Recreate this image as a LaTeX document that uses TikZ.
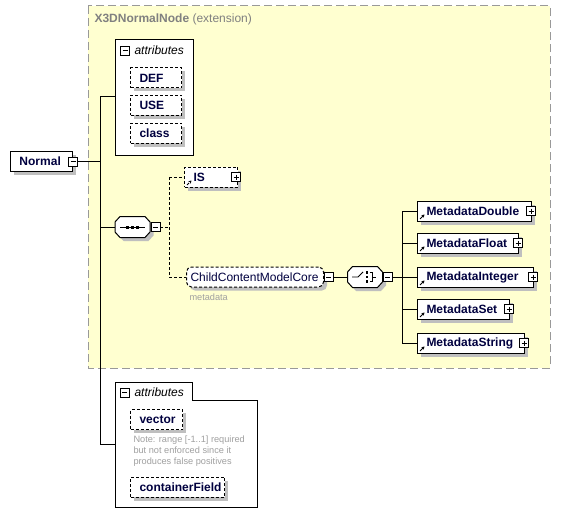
\documentclass[tikz,border=0pt]{standalone}
\usepackage{fontspec}
\setmainfont{Liberation Sans}
\usetikzlibrary{shadows,arrows.meta}
\definecolor{extfill}{HTML}{FFFFD0}
\definecolor{extline}{HTML}{999999}
\definecolor{elemtext}{HTML}{00003F}
\definecolor{titlegray}{HTML}{808080}
\definecolor{notegray}{HTML}{A0A0A0}
\definecolor{shadowgray}{HTML}{BFBFBF}

\begin{document}
\begin{tikzpicture}[x=1pt,y=-1pt,line width=1pt,
  font=\fontsize{12}{14}\selectfont,
  boxshadow/.style={general shadow={fill=shadowgray,shadow xshift=3.5pt,shadow yshift=-3.5pt}},
  elem/.style={draw,fill=white,boxshadow,anchor=west,minimum height=20pt,inner xsep=9pt,inner ysep=0pt,text width=#1,align=left,text=elemtext,font=\fontsize{12}{14}\selectfont\bfseries},
  opt/.style={dash pattern=on 3pt off 2pt},
  ref/.style={path picture={\draw[-{Stealth[length=3pt,width=3.5pt]},line width=0.9pt] ([shift={(2.5pt,2pt)}]path picture bounding box.south west) -- ++(4.5pt,4.5pt);}},
  pm/.style={draw,fill=white,solid,minimum size=9pt,inner sep=0pt,line width=0.8pt},
  minus/.style={pm,path picture={\draw[line width=0.8pt] ([xshift=2pt]path picture bounding box.west) -- ([xshift=-2pt]path picture bounding box.east);}},
  plus/.style={pm,path picture={\draw[line width=0.8pt] ([xshift=2pt]path picture bounding box.west) -- ([xshift=-2pt]path picture bounding box.east) ([yshift=-2pt]path picture bounding box.north) -- ([yshift=2pt]path picture bounding box.south);}},
  compositor/.style={minimum width=35pt,minimum height=21pt,inner sep=0pt},
  optline/.style={dash pattern=on 3pt off 2pt}]
\useasboundingbox (0,0) rectangle (563,527);

\draw[extline,fill=extfill,dash pattern=on 8pt off 4pt] (88,6) rectangle (550,368);
\node[anchor=west,text=titlegray,inner sep=0pt] (title) at (94,19) {\textbf{X3DNormalNode} (extension)};

\node[draw,fill=white,anchor=north west,minimum width=78pt,minimum height=116pt] (attrA) at (115,39) {};
\node[minus] (attrAm) at (125,50.5) {};
\node[anchor=west,inner sep=0pt,font=\fontsize{12}{14}\selectfont\itshape] (attrAt) at (134,50.5) {attributes};
\node[elem=33pt,opt] (def) at (130,78) {DEF};
\node[elem=33pt,opt] (use) at (130,105.5) {USE};
\node[elem=33pt,opt] (class) at (130,133.5) {class};

\node[elem=44pt] (normal) at (10,161.5) {Normal};
\node[minus] (normalm) at (normal.east) {};

\coordinate (t1) at (100,97);
\coordinate (t4) at (100,444);
\draw (normalm.east) -- (normalm.east -| t1);
\draw (t1) -- (t4);
\draw (t1) -- (attrA.west |- t1);

\node[compositor] (seq) at (132.5,227) {};
\node[compositor] (choice) at (365,277) {};
\foreach \c in {seq,choice}{
  \begin{scope}[shift={(\c.center)}]
  \fill[shadowgray] (-14,-1.5) -- (-9,-7) -- (16,-7) -- (21,-1.5) -- (21,8.5) -- (16,14) -- (-9,14) -- (-14,8.5) -- cycle;
  \draw[fill=white] (-17.5,-5) -- (-12.5,-10.5) -- (12.5,-10.5) -- (17.5,-5) -- (17.5,5) -- (12.5,10.5) -- (-12.5,10.5) -- (-17.5,5) -- cycle;
  \end{scope}
}
\begin{scope}[shift={(seq.center)}]
\draw (-12.5,0) -- (12.5,0);
\foreach \d in {-5,0,5}
  \fill (\d-1.5,-1.5) rectangle (\d+1.5,1.5);
\end{scope}
\node[minus,anchor=west] (seqm) at (seq.east) {};
\draw (t1 |- seq.west) -- (seq.west);

\node[elem=35pt,opt,ref] (is) at (184,177) {IS};
\node[plus] (isp) at ([xshift=-2pt]is.east) {};
\node[elem=129pt,opt,inner xsep=4pt,rounded corners=5pt,font=\fontsize{12}{14}\selectfont] (core) at (186,277) {ChildContentModelCore};
\node[minus,anchor=west] (corem) at (core.east) {};
\node[anchor=north west,inner sep=0pt,text=notegray,font=\fontsize{9.2}{11}\selectfont] (corenote) at (189,293) {metadata};

\coordinate (s1) at (169,177);
\coordinate (s2) at (169,277);
\draw[optline] (seqm.east) -- (seqm.east -| s1);
\draw[optline] (s1) -- (s2);
\draw[optline] (s1) -- (is.west);
\draw[optline] (s2) -- (core.west);

\begin{scope}[shift={(choice.center)},line width=0.9pt]
\draw (-13,0) -- (-7,0) -- (-2,-5);
\foreach \d in {-4.5,0,4.5}
  \fill (0.8,\d-1.2) rectangle (3.2,\d+1.2);
\draw (4.5,-4.5) -- (7,-4.5) -- (7,4.5) -- (4.5,4.5) (7,0) -- (11,0);
\end{scope}
\node[minus,anchor=west] (choicem) at (choice.east) {};
\draw (corem.east) -- (choice.west);

\coordinate (c1) at (402,211);
\coordinate (c5) at (402,343);
\draw (choicem.east) -- (choicem.east -| c1);
\draw (c1) -- (c5);
\foreach \n/\w/\y in {Double/96pt/211,Float/83pt/243,Integer/98pt/277,Set/74pt/309,String/89pt/343}{
  \node[elem=\w,ref] (m\n) at (417,\y) {Metadata\n};
  \node[plus] (m\n p) at ([xshift=-1pt]m\n.east) {};
  \draw (c1 |- m\n.west) -- (m\n.west);
}

\draw[fill=white] (115,382) -- (192,382) -- (192,400) -- (257,400) -- (257,507) -- (115,507) -- cycle;
\coordinate (attrB) at (115,444);
\draw (t4) -- (attrB);
\node[minus] (attrBm) at (124.5,392.5) {};
\node[anchor=west,inner sep=0pt,font=\fontsize{12}{14}\selectfont\itshape] (attrBt) at (134,392) {attributes};
\node[elem=34pt,opt] (vector) at (130,419.5) {vector};
\node[anchor=north west,inner sep=0pt,align=left,text=notegray,font=\fontsize{9.2}{11}\selectfont] (vnote) at (133,435.5) {Note: range [-1..1] required\\but not enforced since it\\produces false positives};
\node[elem=76pt,opt] (cfield) at (130,487) {containerField};

\end{tikzpicture}
\end{document}
